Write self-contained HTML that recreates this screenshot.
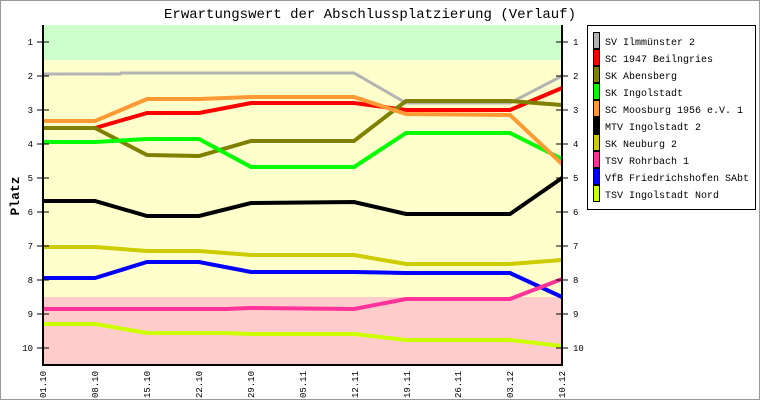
<!DOCTYPE html>
<html><head><meta charset="utf-8"><style>
html,body{margin:0;padding:0;background:#fff}
svg{display:block}
text{font-family:"Liberation Mono","DejaVu Sans Mono",monospace;fill:#000}
</style></head><body>
<svg width="760" height="400" viewBox="0 0 760 400" xmlns="http://www.w3.org/2000/svg">
<rect x="0.5" y="0.5" width="759" height="399" fill="#fff" stroke="#999" stroke-width="1"/>
<text x="370" y="18" font-size="14" text-anchor="middle" textLength="412" lengthAdjust="spacingAndGlyphs">Erwartungswert der Abschlussplatzierung (Verlauf)</text>
<rect x="43" y="25" width="519" height="35" fill="#ccffcc"/>
<rect x="43" y="60" width="519" height="237" fill="#ffffcc"/>
<rect x="43" y="297" width="519" height="68" fill="#ffcccc"/>
<g fill="none" stroke-linejoin="miter">
<polyline stroke="#b3b3b3" stroke-width="3" points="43,74 120,74 121,73 354,73 406,103 510,103 562,76"/>
<polyline stroke="#ff0000" stroke-width="4" points="43,128 95,128 147,113 199,113 251,103 354,103 406,110 510,110 562,88"/>
<polyline stroke="#808000" stroke-width="4" points="43,128 95,128 147,155 199,156 251,141 354,141 406,101 510,101 562,105"/>
<polyline stroke="#00ff00" stroke-width="4" points="43,142 95,142 147,139 199,139 251,167 354,167 406,133 510,133 562,159"/>
<polyline stroke="#ff9933" stroke-width="4" points="43,121 95,121 147,99 199,99 251,97 354,97 406,114 510,115 562,164"/>
<polyline stroke="#000000" stroke-width="4" points="43,201 95,201 147,216 199,216 251,203 354,202 406,214 510,214 562,178"/>
<polyline stroke="#cccc00" stroke-width="4" points="43,247 95,247 147,251 199,251 251,255 354,255 406,264 510,264 562,260"/>
<polyline stroke="#0000ff" stroke-width="4" points="43,278 95,278 147,262 199,262 251,272 354,272 406,273 510,273 562,297"/>
<polyline stroke="#ff3399" stroke-width="4" points="43,309 225,309 251,308 354,309 406,299 510,299 562,279"/>
<polyline stroke="#ccff00" stroke-width="4" points="43,324 95,324 147,333 225,333 251,334 354,334 406,340 510,340 562,346"/>
</g>
<g stroke="#000" stroke-width="2">
<line x1="43" y1="25" x2="43" y2="366"/>
<line x1="562" y1="25" x2="562" y2="366"/>
<line x1="42" y1="365" x2="563" y2="365"/>
</g>
<g stroke="#000" stroke-width="1">
<path d="M37 42h12M37 76h12M37 110h12M37 144h12M37 178h12M37 212h12M37 246h12M37 280h12M37 314h12M37 348h12"/>
<path d="M556 42h12M556 76h12M556 110h12M556 144h12M556 178h12M556 212h12M556 246h12M556 280h12M556 314h12M556 348h12"/>
</g>
<g font-size="9" text-anchor="end">
<text x="33" y="45">1</text><text x="33" y="79">2</text><text x="33" y="113">3</text><text x="33" y="147">4</text><text x="33" y="181">5</text><text x="33" y="215">6</text><text x="33" y="249">7</text><text x="33" y="283">8</text><text x="33" y="317">9</text><text x="33" y="351">10</text>
</g>
<g font-size="9">
<text x="573" y="45">1</text><text x="573" y="79">2</text><text x="573" y="113">3</text><text x="573" y="147">4</text><text x="573" y="181">5</text><text x="573" y="215">6</text><text x="573" y="249">7</text><text x="573" y="283">8</text><text x="573" y="317">9</text><text x="573" y="351">10</text>
</g>
<text transform="translate(19,196) rotate(-90)" font-size="13" font-weight="bold" text-anchor="middle">Platz</text>
<g font-size="9" text-anchor="end">
<text transform="translate(46,371) rotate(-90)">01.10</text>
<text transform="translate(98,371) rotate(-90)">08.10</text>
<text transform="translate(150,371) rotate(-90)">15.10</text>
<text transform="translate(202,371) rotate(-90)">22.10</text>
<text transform="translate(254,371) rotate(-90)">29.10</text>
<text transform="translate(306,371) rotate(-90)">05.11</text>
<text transform="translate(358,371) rotate(-90)">12.11</text>
<text transform="translate(410,371) rotate(-90)">19.11</text>
<text transform="translate(461,371) rotate(-90)">26.11</text>
<text transform="translate(513,371) rotate(-90)">03.12</text>
<text transform="translate(565,371) rotate(-90)">10.12</text>
</g>
<rect x="587.5" y="25.5" width="168" height="184" fill="#fff" stroke="#000" stroke-width="1"/>
<g stroke="#000" stroke-width="1">
<rect x="593.5" y="32.5" width="6" height="16" fill="#b3b3b3"/>
<rect x="593.5" y="49.5" width="6" height="16" fill="#ff0000"/>
<rect x="593.5" y="66.5" width="6" height="16" fill="#808000"/>
<rect x="593.5" y="83.5" width="6" height="16" fill="#00ff00"/>
<rect x="593.5" y="100.5" width="6" height="16" fill="#ff9933"/>
<rect x="593.5" y="117.5" width="6" height="16" fill="#000000"/>
<rect x="593.5" y="134.5" width="6" height="16" fill="#cccc00"/>
<rect x="593.5" y="151.5" width="6" height="16" fill="#ff3399"/>
<rect x="593.5" y="168.5" width="6" height="16" fill="#0000ff"/>
<rect x="593.5" y="185.5" width="6" height="16" fill="#ccff00"/>
</g>
<g font-size="10">
<text x="605" y="45">SV Ilmmünster 2</text>
<text x="605" y="62">SC 1947 Beilngries</text>
<text x="605" y="79">SK Abensberg</text>
<text x="605" y="96">SK Ingolstadt</text>
<text x="605" y="113">SC Moosburg 1956 e.V. 1</text>
<text x="605" y="130">MTV Ingolstadt 2</text>
<text x="605" y="147">SK Neuburg 2</text>
<text x="605" y="164">TSV Rohrbach 1</text>
<text x="605" y="181">VfB Friedrichshofen SAbt</text>
<text x="605" y="198">TSV Ingolstadt Nord</text>
</g>
</svg>
</body></html>
